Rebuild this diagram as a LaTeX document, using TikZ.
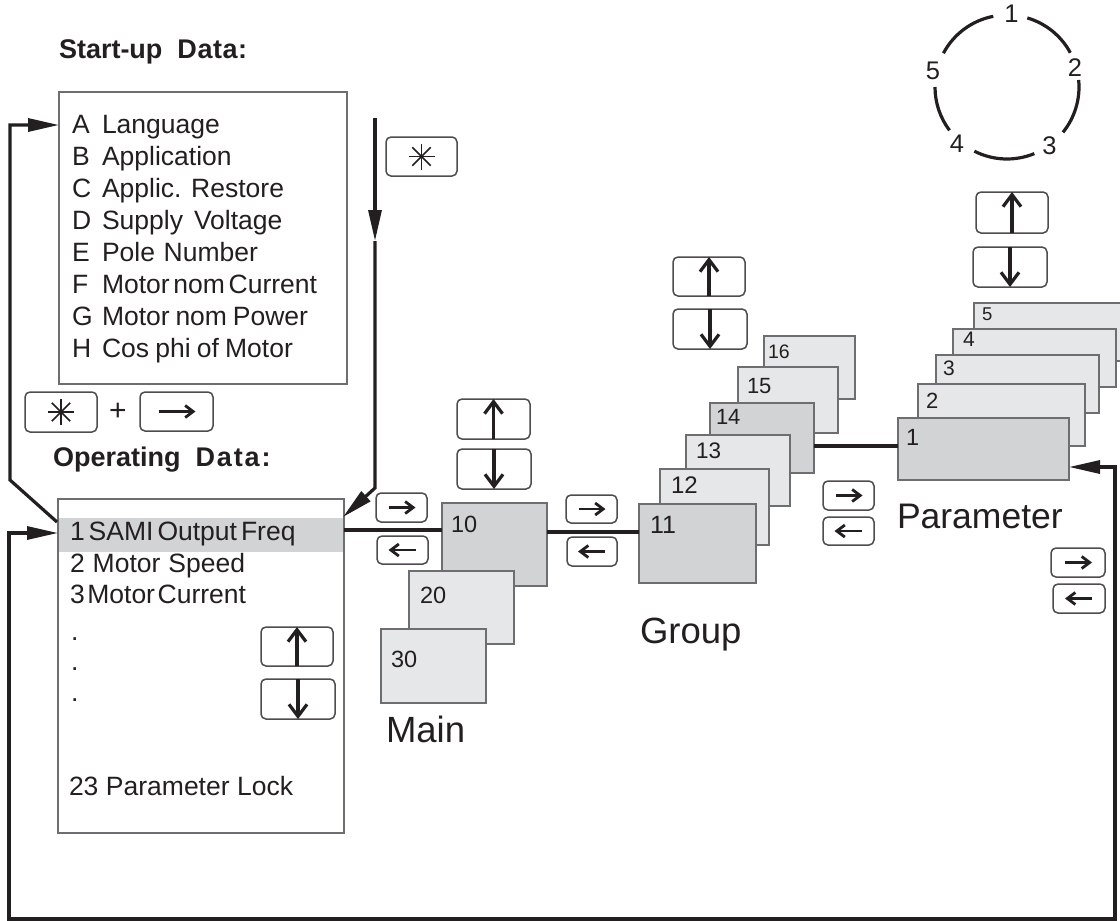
\documentclass[tikz,border=0pt]{standalone}
\usepackage{fontspec}
\setmainfont{Liberation Sans}
\newfontfamily\headfont{Liberation Sans}
\usetikzlibrary{arrows.meta,fit}
\definecolor{ink}{HTML}{231F20}
\definecolor{darkc}{HTML}{D1D3D4}
\definecolor{lightc}{HTML}{E6E7E8}
\definecolor{edge}{HTML}{6D6E71}
\newcommand\gp[1]{\hspace*{#1pt}}
\tikzset{
  conn/.style={draw=ink, line width=3.2pt},
  tipr/.style={-{Triangle[length=31pt,width=13pt]}},
  card/.style={draw=edge, line width=1.5pt, inner sep=0pt, outer sep=0pt},
  dcard/.style={card, fill=darkc},
  lcard/.style={card, fill=lightc},
  framebox/.style={draw=edge, line width=1.5pt, inner sep=0pt, outer sep=0pt, fill=white},
  keybox/.style={draw=ink!80, line width=1.5pt, rounded corners=5pt, inner sep=0pt, outer sep=0pt, fill=white},
  varr/.style={draw=ink, line width=3.2pt, -{Straight Barb[length=12pt,width=18pt]}},
  harr/.style={draw=ink, line width=2.8pt, -{Straight Barb[length=8pt,width=12pt]}},
  starl/.style={draw=ink, line width=1.6pt},
  lbl/.style={anchor=base west, inner sep=0pt, outer sep=0pt, text=ink},
  ctr/.style={anchor=center, inner sep=0pt, outer sep=0pt, text=ink},
  item/.style={lbl, font=\fontsize{26.5}{30}\selectfont},
  big/.style={lbl, font=\fontsize{36.5}{40}\selectfont},
  head/.style={lbl, font=\fontsize{27}{30}\headfont\bfseries},
  arcl/.style={draw=ink, line width=3.2pt},
}
\newcommand\mkstar[1]{%
  \draw[starl] ([shift={(0:13)}]#1) -- ([shift={(180:13)}]#1);
  \draw[starl] ([shift={(90:13)}]#1) -- ([shift={(270:13)}]#1);
  \draw[starl] ([shift={(45:13)}]#1) -- ([shift={(225:13)}]#1);
  \draw[starl] ([shift={(135:13)}]#1) -- ([shift={(315:13)}]#1);}
\newcommand\upkey[1]{\draw[varr] (#1.south) -- (#1.north);}
\newcommand\dnkey[1]{\draw[varr] (#1.north) -- (#1.south);}
\newcommand\rtkey[1]{\draw[harr] ([xshift=-13pt]#1.center) -- ([xshift=14pt]#1.center);}
\newcommand\lfkey[1]{\draw[harr] ([xshift=13pt]#1.center) -- ([xshift=-14pt]#1.center);}
\begin{document}
\begin{tikzpicture}[x=1pt,y=-1pt]
\useasboundingbox (0,0) rectangle (1120,921);
\clip (0,0) rectangle (1120,921);

% ---------- Start-up data ----------
\node[head] (suhead) at (59,58) {Start-up\gp{15}{\addfontfeature{LetterSpace=2}Data:}};
\node[framebox, fit={(59,92) (347,384)}] (su) {};
\foreach \l/\t [count=\i from 0] in {A/Language,B/Application,C/Applic.\gp{9.7}Restore,D/Supply\gp{11}Voltage,E/Pole\gp{8.7}Number,F/Motor\gp{3.7}nom\gp{3.7}Current,G/Motor\gp{5.8}nom\gp{5.8}Power,H/Cos\gp{6.2}phi\gp{6.2}of\gp{6.2}Motor}{
  \node[item] (sul\i) at (72,{133+32*\i}) {\l};
  \node[item] (sut\i) at (102,{133+32*\i}) {\t};
}

% star key (top)
\node[keybox, fit={(386,137) (457,176)}] (kstar) {};
\mkstar{kstar.center}

% star + right
\node[keybox, fit={(25,392) (97,432)}] (kstar2) {};
\mkstar{kstar2.center}
\node[ctr, font=\fontsize{30}{30}\selectfont] (plus) at (118,412) {+};
\node[keybox, fit={(140,392) (213,431)}] (kright0) {};
\draw[harr] ([xshift=-18pt]kright0.center) -- ([xshift=19pt]kright0.center);

% ---------- Operating data ----------
\node[head] (ophead) at (53,466) {Operating\gp{15}{\addfontfeature{LetterSpace=7}Data:}};
\node[framebox, fit={(58,499) (344,833)}] (op) {};
\node[fill=darkc, inner sep=0pt, outer sep=0pt, fit={(58.8,518) (343.2,552)}] (band) {};
\node[item] (o1) at (70,540) {1\gp{4}SAMI\gp{4}Output\gp{4}Freq};
\node[item] (o2) at (70,572) {2\gp{8}Motor\gp{8}Speed};
\node[item] (o3) at (70,603) {3\gp{2.6}Motor\gp{2.6}Current};
\node[item] (od1) at (71,640) {.};
\node[item] (od2) at (71,670) {.};
\node[item] (od3) at (71,701) {.};
\node[item] (o23) at (69,795) {23\gp{7.5}Parameter\gp{7.5}Lock};
\node[keybox, fit={(261,627) (333,666)}] (opup) {};
\upkey{opup}
\node[keybox, fit={(261,679) (335,719)}] (opdn) {};
\dnkey{opdn}

% ---------- Main ----------
\node[keybox, fit={(457,399) (530,439)}] (mup) {};
\upkey{mup}
\node[keybox, fit={(457,449) (531,489)}] (mdn) {};
\dnkey{mdn}
\node[keybox, fit={(376,493) (427,522)}] (mr) {};
\rtkey{mr}
\node[keybox, fit={(377,536) (428,564)}] (ml) {};
\lfkey{ml}
\node[dcard, fit={(442,503) (547,586)}] (m10) {};
\node[lcard, fit={(409,571) (514,644)}] (m20) {};
\node[lcard, fit={(381,629) (486,703)}] (m30) {};
\node[lbl, font=\fontsize{23.5}{23}\selectfont] (t10) at (451,532) {10};
\node[lbl, font=\fontsize{23.5}{23}\selectfont] (t20) at (420,603) {20};
\node[lbl, font=\fontsize{23.5}{23}\selectfont] (t30) at (391,667) {30};
\node[big] (mainlbl) at (386,742) {Main};

% ---------- Group ----------
\node[keybox, fit={(673,257) (745,296)}] (gup) {};
\upkey{gup}
\node[keybox, fit={(673,309) (747,349)}] (gdn) {};
\dnkey{gdn}
\node[keybox, fit={(566,495) (617,523)}] (gr) {};
\rtkey{gr}
\node[keybox, fit={(567,537) (617,566)}] (gl) {};
\lfkey{gl}
\node[lcard, fit={(764,336) (855,399)}] (g16) {};
\node[lcard, fit={(738,367) (838,433)}] (g15) {};
\node[dcard, fit={(710,403) (814,473)}] (g14) {};
\node[lcard, fit={(686,435) (790,506)}] (g13) {};
\node[lcard, fit={(660,469) (769,545)}] (g12) {};
\node[dcard, fit={(639,504) (756,583)}] (g11) {};
\node[lbl, font=\fontsize{19.5}{19}\selectfont] (t16) at (768,358) {16};
\node[lbl, font=\fontsize{22}{22}\selectfont] (t15) at (747,393) {15};
\node[lbl, font=\fontsize{22}{22}\selectfont] (t14) at (716,424) {14};
\node[lbl, font=\fontsize{22.5}{22}\selectfont] (t13) at (696,458) {13};
\node[lbl, font=\fontsize{24}{24}\selectfont] (t12) at (671,493) {12};
\node[lbl, font=\fontsize{25}{25}\selectfont] (t11) at (650,533) {11};
\node[big] (grouplbl) at (640,643) {Group};

% ---------- Parameter ----------
\node[keybox, fit={(976,192) (1048,233)}] (pup) {};
\upkey{pup}
\node[keybox, fit={(973,247) (1047,287)}] (pdn) {};
\dnkey{pdn}
\node[keybox, fit={(823,481) (874,510)}] (pr) {};
\rtkey{pr}
\node[keybox, fit={(823,517) (874,545)}] (pl) {};
\lfkey{pl}
\node[keybox, fit={(1051,548) (1105,577)}] (pr2) {};
\rtkey{pr2}
\node[keybox, fit={(1053,584) (1105,613)}] (pl2) {};
\lfkey{pl2}
\node[lcard, fit={(974,303) (1140,361)}] (p5) {};
\node[lcard, fit={(953,329) (1116,387)}] (p4) {};
\node[lcard, fit={(936,355) (1099,413)}] (p3) {};
\node[lcard, fit={(918,384) (1085,446)}] (p2) {};
\node[dcard, fit={(898,418) (1069,480)}] (p1) {};
\node[lbl, font=\fontsize{18.5}{18}\selectfont] (t5) at (982,320) {5};
\node[lbl, font=\fontsize{21}{21}\selectfont] (t4) at (963,346) {4};
\node[lbl, font=\fontsize{21}{21}\selectfont] (t3) at (943,375) {3};
\node[lbl, font=\fontsize{22}{22}\selectfont] (t2) at (926,408) {2};
\node[lbl, font=\fontsize{23.5}{23}\selectfont] (t1) at (906,445) {1};
\node[big, font=\fontsize{35.5}{40}\selectfont] (paramlbl) at (897,528) {Parameter};

% ---------- circle ----------
\node[ctr, font=\fontsize{25.5}{25}\selectfont] (c1) at (1011.5,14) {1};
\node[ctr, font=\fontsize{25.5}{25}\selectfont] (c2) at (1075,68) {2};
\node[ctr, font=\fontsize{25.5}{25}\selectfont] (c3) at (1049.5,146) {3};
\node[ctr, font=\fontsize{25.5}{25}\selectfont] (c4) at (957,144) {4};
\node[ctr, font=\fontsize{25.5}{25}\selectfont] (c5) at (933,70.5) {5};
\draw[arcl] ([shift={(-73.6:72)}]1007,87) arc[start angle=-73.6, end angle=-28.4, radius=72];
\draw[arcl] ([shift={(-5.6:72)}]1007,87) arc[start angle=-5.6, end angle=39, radius=72];
\draw[arcl] ([shift={(67.7:72)}]1007,87) arc[start angle=67.7, end angle=117, radius=72];
\draw[arcl] ([shift={(143:72)}]1007,87) arc[start angle=143, end angle=180, radius=72];
\draw[arcl] ([shift={(208:72)}]1007,87) arc[start angle=208, end angle=259, radius=72];

% ---------- connectors ----------
\coordinate (starTop) at (375,118);
\coordinate (starMid) at (375,241);
\coordinate (starBend) at (375,488);
\coordinate (opIn) at (343,517);
\draw[conn, tipr] (starTop) -- (starMid);
\draw[conn, tipr] (starMid) -- (starBend) -- (opIn);

\coordinate (opOut) at (57,522);
\coordinate (leftBend) at (10,480);
\coordinate (leftTop) at (10,125);
\draw[conn, tipr] (opOut) -- (leftBend) -- (leftTop) -- (leftTop -| su.west);

\coordinate (loopA) at (9,533);
\coordinate (loopB) at (9,919);
\coordinate (loopC) at (1115,919);
\coordinate (loopD) at (1115,467);
\draw[conn, {Triangle[length=31pt,width=13pt]}-{Triangle[length=31pt,width=13pt]}]
  (loopA -| op.west) -- (loopA) -- (loopB) -- (loopC) -- (loopD) -- (loopD -| p1.east);

\coordinate (y530) at (0,530);
\coordinate (y532) at (0,532);
\coordinate (y446) at (0,446);
\draw[conn] (op.east |- y530) -- (m10.west |- y530);
\draw[conn] (m10.east |- y532) -- (g11.west |- y532);
\draw[conn] (g14.east |- y446) -- (p1.west |- y446);
\end{tikzpicture}
\end{document}
